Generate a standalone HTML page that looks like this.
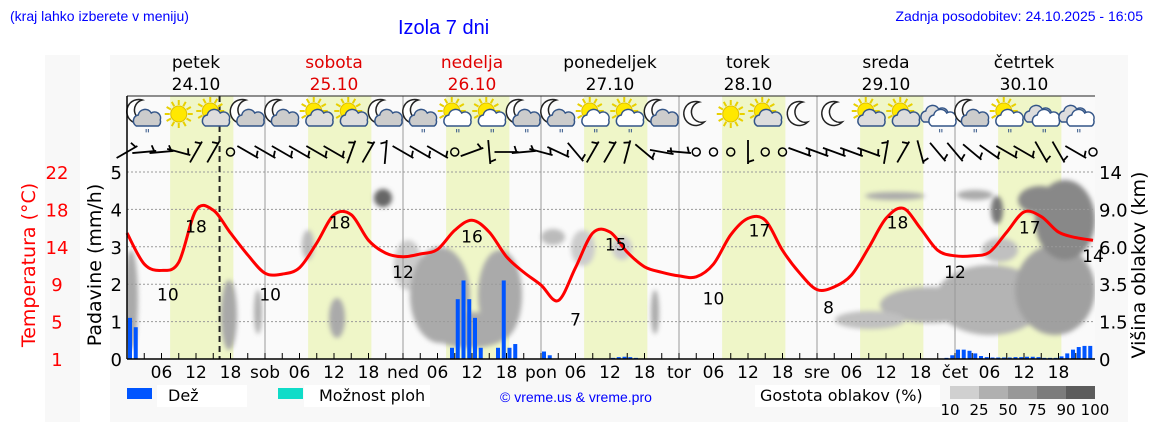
<!DOCTYPE html>
<html><head><meta charset="utf-8">
<style>
body{margin:0;background:#fff;width:1152px;height:443px;overflow:hidden;font-family:"Liberation Sans","DejaVu Sans",sans-serif}
svg text{font-family:"DejaVu Sans","Liberation Sans",sans-serif}
</style></head><body>
<svg id="c" width="1152" height="443" viewBox="0 0 1152 443" xmlns="http://www.w3.org/2000/svg">
<defs><filter id="bl" x="-50%" y="-50%" width="200%" height="200%"><feGaussianBlur stdDeviation="2.5"/></filter>
<clipPath id="pc"><rect x="127" y="160" width="968" height="199"/></clipPath></defs>
<rect x="45" y="55" width="35" height="367" fill="#f8f8f8"/>
<rect x="110" y="55" width="1018" height="367" fill="#f8f8f8"/>
<rect x="127" y="96" width="968" height="263" fill="#fafafa"/>
<g id="bands"></g><g id="clouds" clip-path="url(#pc)" filter="url(#bl)"></g><g id="grid"></g><g id="bars"></g><g id="temp"></g><g id="icons"></g><g id="wind"></g><g id="axes"></g>
<text x="10" y="21" font-size="14" fill="#0000ff" style="font-family:'Liberation Sans',sans-serif">(kraj lahko izberete v meniju)</text>
<text x="398" y="34" font-size="20" fill="#0000ff" style="font-family:'Liberation Sans',sans-serif">Izola 7 dni</text>
<text x="1143" y="21" font-size="14" fill="#0000ff" text-anchor="end" style="font-family:'Liberation Sans',sans-serif">Zadnja posodobitev: 24.10.2025 - 16:05</text>
<text transform="translate(35,265) rotate(-90)" font-size="19" fill="#ff0000" text-anchor="middle">Temperatura (°C)</text>
<text transform="translate(101,265) rotate(-90)" font-size="19" fill="#000" text-anchor="middle">Padavine (mm/h)</text>
<text transform="translate(1145,265) rotate(-90)" font-size="19" fill="#000" text-anchor="middle">Višina oblakov (km)</text>
<rect x="127" y="388" width="25" height="11" fill="#0055ff"/>
<rect x="157" y="385" width="90" height="22" fill="#fff"/>
<text x="168" y="401" font-size="16">Dež</text>
<rect x="278" y="388" width="25" height="11" fill="#10dcc8"/>
<rect x="304" y="385" width="126" height="22" fill="#fff"/>
<text x="319" y="401" font-size="16">Možnost ploh</text>
<text x="500" y="402" font-size="14" fill="#0000ff" style="font-family:'Liberation Sans',sans-serif">© vreme.us &amp; vreme.pro</text>
<rect x="755" y="385" width="185" height="22" fill="#fff"/>
<text x="760" y="401" font-size="16">Gostota oblakov (%)</text>
<g id="scale"></g>
</svg>
<script>
const NS='http://www.w3.org/2000/svg';
const svg=document.getElementById('c');
function mk(t,a,p){const e=document.createElementNS(NS,t);for(const k in a)e.setAttribute(k,a[k]);(p||svg).appendChild(e);return e;}
const X=h=>127+h*5.75;
const YP=mm=>359-mm*37.4;
const YT=t=>359-(t-1.6)*9.13;

const dayNames=['petek','sobota','nedelja','ponedeljek','torek','sreda','četrtek'];
const dayDates=['24.10','25.10','26.10','27.10','28.10','29.10','30.10'];
const dayColors=['#000','#e00000','#e00000','#000','#000','#000','#000'];
const dayAbbr=['','sob','ned','pon','tor','sre','čet'];
// temperature every 3 hours from hour 0
const tempValues=[15.4,12.0,11.3,12.2,17.9,17.9,15.4,13.0,11.0,10.9,11.6,14.3,17.4,17.4,14.6,13.2,12.8,13.1,13.6,15.7,16.8,15.5,12.8,11.1,9.7,8.0,11.6,15.4,15.5,13.3,11.7,11.1,10.7,10.6,12.0,15.2,17.0,16.8,13.5,11.0,9.2,9.5,10.8,13.8,17.0,18.1,15.9,13.5,12.9,12.9,13.3,15.5,17.7,17.2,15.5,14.9,14.6];
const tempLabelHours=[7.1,12,24.9,37,48,60,78,85,102,110,122,134,144,157,168];
const tempLabelValues=[10,18,10,18,12,16,7,15,10,17,8,18,12,17,14];
const tempLabelDy=[12,17,12,13,8,9,10,8,16,12,7,13,8,9,10];
const precipHours=[0,1,56,57,58,59,60,61,64,65,66,67,72,73,84,85,86,87,88,142,143,144,145,146,147,148,149,150,151,152,153,154,155,156,157,158,159,160,161,162,163,164,165,166,167];
const precipValues=[1.1,0.85,0.3,1.6,2.1,1.6,1.1,0.3,0.3,2.1,0.3,0.4,0.2,0.1,0.03,0.05,0.06,0.05,0.03,0.03,0.1,0.25,0.25,0.22,0.15,0.08,0.05,0.04,0.04,0.04,0.04,0.05,0.05,0.06,0.06,0.05,0.03,0.03,0.03,0.07,0.15,0.25,0.32,0.35,0.35];
const windAngles=[-30,-5,-5,15,-60,-60,null,30, 30,30,30,30,30,-70,-60,-85, 30,30,30,null,-20,85,0,-5, 15,25,50,-60,-60,-75,40,10, 5,null,null,null,90,null,null,20, 20,20,20,20,-80,-60,75,50, 50,40,35,30,30,60,60,30,null];
const iconTypes=['moonRain','sun','sunCloud','moonCloud','moonCloud','sunCloud','sunCloud','moonCloud','moonCloudRain','sunCloudRain','sunCloudRain','moonCloudRain','moonCloudRain','sunCloudRain','sunCloudRain','moonCloud','moon','sun','sunCloud','moon','moon','sunCloud','sunCloud','cloudRain','moonCloudRain','sunCloudRain','cloudRain','cloudRain'];
const precipTicks=[0,1,2,3,4,5];
const tempTicks=['1','5','9','14','18','22'];
const cloudTicks=['0','1.5','3.5','6.0','9.0','14'];

const bands=document.getElementById('bands');
for(let d=0;d<7;d++){const r=mk('rect',{x:X(d*24+7.5),y:96,width:5.75*11,height:263,fill:'#eff6c8'},bands);

}

const cl=document.getElementById('clouds');
[[131,300,7,50,'#aaa'],[229,315,8,35,'#a8a8a8'],[258,312,4,22,'#b0b0b0'],[308,245,6,15,'#bbb'],[337,318,8,20,'#aaa'],[383,198,9,9,'#666'],[408,265,14,25,'#ccc'],[440,295,30,48,'#aaa'],[500,295,22,45,'#aaa'],[470,330,40,18,'#aaa'],[553,237,12,8,'#bbb'],[583,248,12,18,'#ccc'],[655,312,4,22,'#aaa'],[622,248,10,12,'#ccc'],[895,196,30,4,'#aaa'],[975,195,18,5,'#aaa'],[997,210,6,14,'#777'],[930,305,50,18,'#b4b4b4'],[870,320,35,9,'#c0c0c0'],[990,300,55,35,'#b4b4b4'],[1055,290,40,45,'#a0a0a0'],[1065,220,30,40,'#888'],[1040,200,22,14,'#888'],[1000,250,18,12,'#c0c0c0']].forEach(b=>{
const e=mk('ellipse',{cx:b[0],cy:b[1],rx:b[2],ry:b[3],fill:b[4]},cl);

});

const g=document.getElementById('grid');
precipTicks.forEach(v=>{if(v>0)mk('line',{x1:127,x2:1095,y1:YP(v),y2:YP(v),stroke:'#999','stroke-dasharray':'2,2','stroke-width':1},g);});
for(let d=1;d<7;d++)mk('line',{x1:X(d*24),x2:X(d*24),y1:96,y2:359,stroke:'#999','stroke-width':1},g);
mk('line',{x1:X(16.1),x2:X(16.1),y1:96,y2:359,stroke:'#222','stroke-width':2,'stroke-dasharray':'6,4'},g);

const bg=document.getElementById('bars');
precipHours.forEach((h,i)=>{const r=mk('rect',{x:X(h)+1,y:YP(precipValues[i]),width:4,height:359-YP(precipValues[i]),fill:'#0055ff'},bg);

});

const tg=document.getElementById('temp');
const pts=tempValues.map((t,i)=>[X(i*3),YT(t)]);
let d='M'+pts[0][0]+','+pts[0][1];
for(let i=0;i<pts.length-1;i++){const p0=pts[Math.max(0,i-1)],p1=pts[i],p2=pts[i+1],p3=pts[Math.min(pts.length-1,i+2)];
d+=` C${p1[0]+(p2[0]-p0[0])/6},${p1[1]+(p2[1]-p0[1])/6} ${p2[0]-(p3[0]-p1[0])/6},${p2[1]-(p3[1]-p1[1])/6} ${p2[0]},${p2[1]}`;}
const tl=mk('path',{d:d,fill:'none',stroke:'#ff0000','stroke-width':3},tg);


tempLabelHours.forEach((h,i)=>{
const t=mk('text',{x:X(h),y:YT(tempLabelValues[i])+tempLabelDy[i]+6,'font-size':17,'text-anchor':'middle',fill:'#000'},tg);
t.textContent=tempLabelValues[i];

});

const ig=document.getElementById('icons');
function sun(gr,x,y){for(let a=0;a<360;a+=30){const r=a*Math.PI/180;mk('line',{x1:x+Math.cos(r)*9,y1:y+Math.sin(r)*9,x2:x+Math.cos(r)*14,y2:y+Math.sin(r)*14,stroke:'#e8d000','stroke-width':2},gr);}mk('circle',{cx:x,cy:y,r:8,fill:'#ffe800',stroke:'#e0c000'},gr);}
function moon(gr,x,y){mk('path',{d:`M${x+3},${y-12} A12,12 0 1,0 ${x+8},${y+8} A10,10 0 1,1 ${x+3},${y-12}Z`,fill:'#fff',stroke:'#222','stroke-width':1.5},gr);}
function cloud(gr,x,y,fill){mk('path',{d:`M${x-12},${y+6} a6,6 0 0,1 2,-11 a7,7 0 0,1 13,-2 a6,6 0 0,1 9,7 a5,5 0 0,1 -2,6 Z`,fill:fill,stroke:'#335588','stroke-width':1.5},gr);}
function rain(gr,x,y){mk('text',{x:x,y:y,'font-size':12,fill:'#335588','text-anchor':'middle'},gr).textContent='"';}
iconTypes.forEach((tp,k)=>{const cx=X(3+6*k),cy=114;const gr=mk('g',{},ig);


if(tp==='sun')sun(gr,cx,cy);
if(tp==='moon')moon(gr,cx,cy);
if(tp.startsWith('sunCloud')){sun(gr,cx-3,cy-3);cloud(gr,cx+4,cy+6,tp==='sunCloudRain'?'#fff':'#ddd');}
if(tp.startsWith('moonCloud')||tp==='moonRain'){moon(gr,cx-5,cy-2);cloud(gr,cx+4,cy+6,'#ccc');}
if(tp==='cloudRain'){cloud(gr,cx-2,cy+2,'#ddd');cloud(gr,cx+6,cy+6,'#fff');}
if(tp.endsWith('Rain'))rain(gr,cx+3,cy+24);});

const wg=document.getElementById('wind');
windAngles.forEach((a,k)=>{const x=X(3*k),y=152;const gr=mk('g',{},wg);


if(a===null){mk('circle',{cx:x,cy:y,r:4,fill:'none',stroke:'#000','stroke-width':1.5},gr);return;}
gr.setAttribute('transform',`translate(${x},${y}) rotate(${a})`);
mk('line',{x1:-12,y1:0,x2:12,y2:0,stroke:'#000','stroke-width':1.8},gr);
mk('line',{x1:10,y1:0,x2:8,y2:-6,stroke:'#000','stroke-width':1.8},gr);});

const ag=document.getElementById('axes');
mk('line',{x1:127,x2:1095,y1:96,y2:96,stroke:'#222','stroke-width':1},ag);
mk('line',{x1:127,x2:127,y1:96,y2:359,stroke:'#000','stroke-width':1.5},ag);
mk('line',{x1:127,x2:1095,y1:359,y2:359,stroke:'#000','stroke-width':1.5},ag);
precipTicks.forEach((v,i)=>{
const t=mk('text',{x:122,y:YP(v)+7,'font-size':18,'text-anchor':'end'},ag);t.textContent=v;


const tt=mk('text',{x:57,y:YP(v)+7,'font-size':18,'text-anchor':'middle',fill:'#ff0000'},ag);tt.textContent=tempTicks[i];


const ct=mk('text',{x:1099,y:YP(v)+7,'font-size':18},ag);ct.textContent=cloudTicks[i];

});
for(let h=3;h<168;h+=3)mk('line',{x1:X(h),x2:X(h),y1:353,y2:359,stroke:'#000'},ag);
for(let d=0;d<7;d++){
[6,12,18].forEach(hh=>{const t=mk('text',{x:X(d*24+hh),y:378,'font-size':17,'text-anchor':'middle'},ag);t.textContent=String(hh).padStart(2,'0');

});
if(d>0){const t=mk('text',{x:X(d*24),y:378,'font-size':17,'text-anchor':'middle'},ag);t.textContent=dayAbbr[d];

}
const n=mk('text',{x:X(d*24+12),y:68,'font-size':17,'text-anchor':'middle',fill:dayColors[d]},ag);n.textContent=dayNames[d];


const dt=mk('text',{x:X(d*24+12),y:90,'font-size':17,'text-anchor':'middle',fill:dayColors[d]},ag);dt.textContent=dayDates[d];

}

const sg=document.getElementById('scale');
const scaleColors=['#d0d0d0','#b0b0b0','#989898','#7c7c7c','#5c5c5c'];
const scaleLabels=['10','25','50','75','90','100'];
scaleColors.forEach((c,i)=>{const r=mk('rect',{x:950+i*29,y:386,width:29,height:13,fill:c},sg);

});
scaleLabels.forEach((l,i)=>{const t=mk('text',{x:950+i*29,y:415,'font-size':15,'text-anchor':'middle'},sg);t.textContent=l;

});
</script>
</body></html>
